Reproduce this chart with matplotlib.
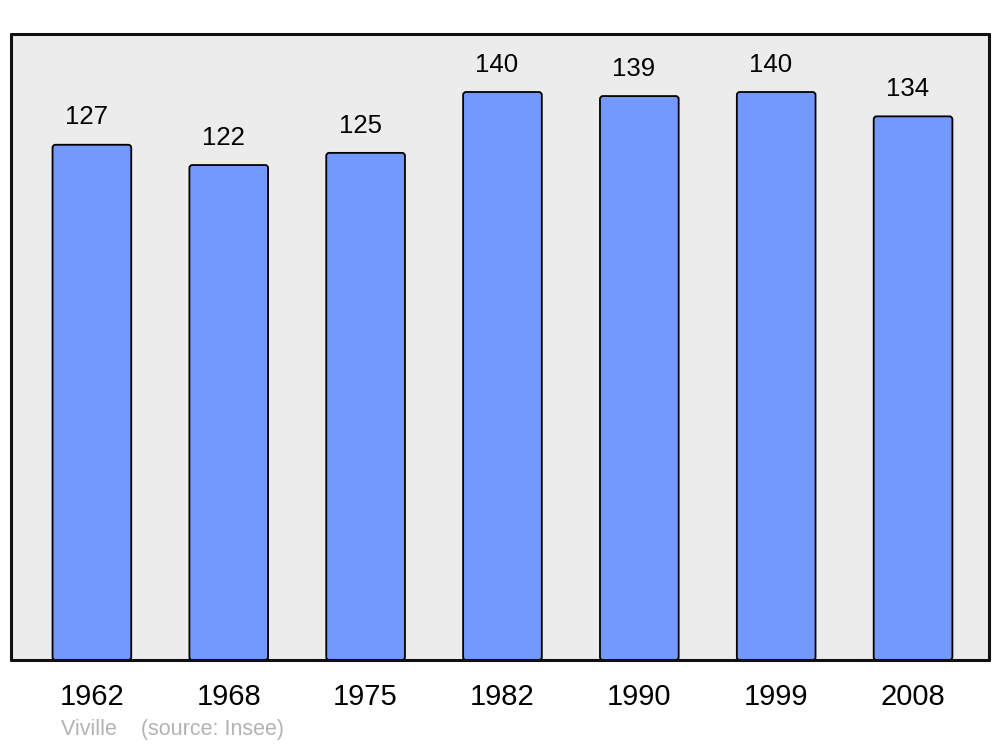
import matplotlib
matplotlib.use("Agg")
import matplotlib.pyplot as plt
from matplotlib.patches import FancyBboxPatch

years = ["1962", "1968", "1975", "1982", "1990", "1999", "2008"]
population = [127, 122, 125, 140, 139, 140, 134]

plt.rcParams['font.family'] = ['Liberation Sans', 'DejaVu Sans']

fig = plt.figure(figsize=(10, 7.47), dpi=100)
ax = fig.add_axes([0.011, 87/747, 0.978, 626/747])
ax.set_facecolor('#ececec')

xlim = (-0.591, 6.555)
ylim = (0, 154.3)
ax.set_xlim(*xlim)
ax.set_ylim(*ylim)

x = list(range(len(years)))
bars = ax.bar(x, population, width=0.575, color='#7399ff', edgecolor='black',
              linewidth=1.3, zorder=2)

# replace bars with slightly rounded versions of the same geometry
px_per_x = 978 / (xlim[1] - xlim[0])
px_per_y = 626 / (ylim[1] - ylim[0])
aspect = px_per_x / px_per_y
for b in bars:
    b.set_visible(False)
    p = FancyBboxPatch((b.get_x(), b.get_y()), b.get_width(), b.get_height(),
                       boxstyle=f"round,pad=0,rounding_size={3/px_per_x}",
                       mutation_aspect=aspect, facecolor='#7399ff',
                       edgecolor='black', linewidth=1.3, zorder=2)
    ax.add_patch(p)

for xi, v in zip(x, population):
    ax.annotate(str(v), (xi, v), xytext=(-4, 11), textcoords='offset points',
                ha='center', va='bottom', fontsize=18.5, color='black')

ax.set_yticks([])
ax.set_xticks(x)
ax.set_xticklabels(years, fontsize=21)
ax.tick_params(axis='x', length=0, pad=16.5)
for s in ax.spines.values():
    s.set_linewidth(2.2)
    s.set_color('#111111')
    s.set_capstyle('round')
    s.set_joinstyle('round')

fig.text(0.061, 1 - 730/747, "Viville    (source: Insee)", fontsize=15.5,
         color='#b3b3b3', ha='left', va='center')

fig.savefig('out.png', dpi=100, facecolor='white')
